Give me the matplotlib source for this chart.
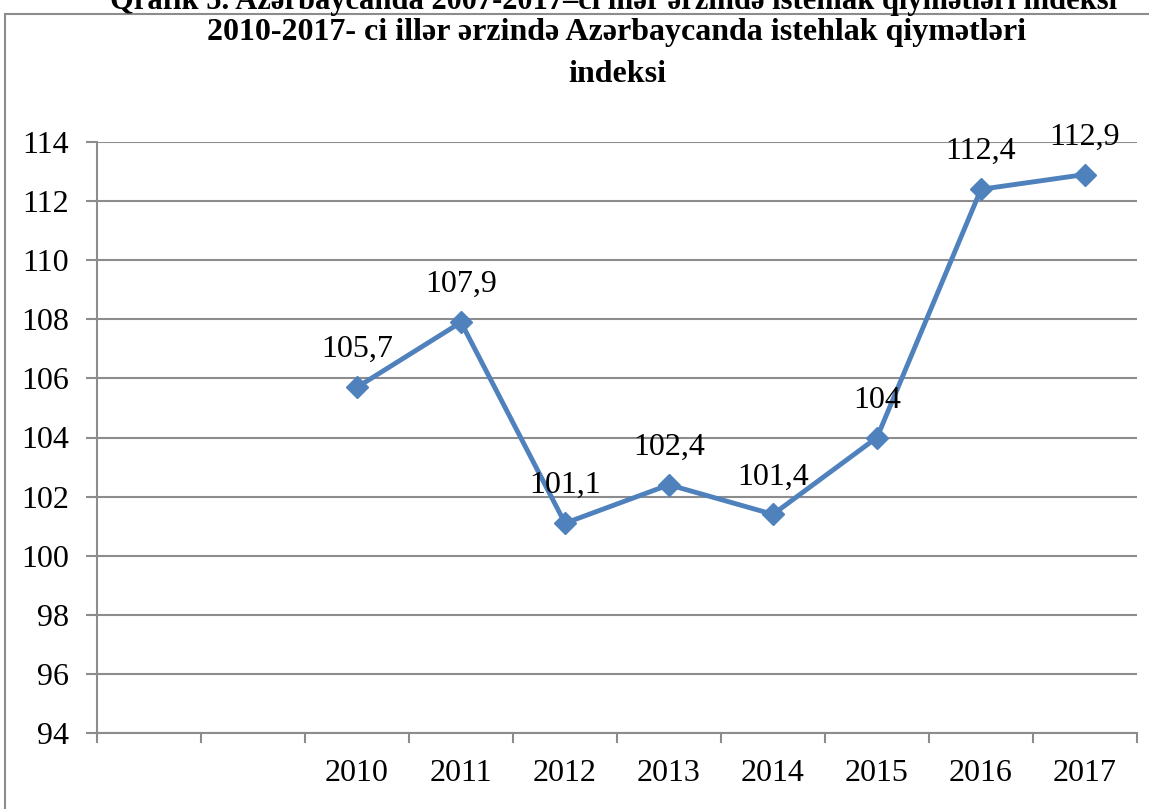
import numpy as np
import matplotlib
matplotlib.use("Agg")
import matplotlib.pyplot as plt
from matplotlib.patches import Rectangle

# data
categories = ['', '', '2010', '2011', '2012', '2013', '2014', '2015', '2016', '2017']
values = [np.nan, np.nan, 105.7, 107.9, 101.1, 102.4, 101.4, 104.0, 112.4, 112.9]
y_ticks = list(range(94, 115, 2))

title_top = 'Qrafik 5. Azərbaycanda 2007-2017–ci illər ərzində istehlak qiymətləri indeksi'
title = '2010-2017- ci illər ərzində Azərbaycanda istehlak qiymətləri\nindeksi'

plt.rcParams['font.family'] = ['Liberation Serif', 'DejaVu Serif']

W, H = 1149, 809
fig = plt.figure(figsize=(W / 100, H / 100), dpi=100)
ax = fig.add_axes([97 / W, 1 - 733 / H, (1137 - 97) / W, (733 - 142) / H])

grey = '#8c8c8c'
blue = '#4f81bd'

x = np.arange(len(categories))
ax.plot(x, values, color=blue, lw=3.5, marker='D', ms=11, zorder=3)

for xi, v in zip(x, values):
    if np.isnan(v):
        continue
    ax.annotate(f'{v:g}'.replace('.', ','), (xi, v), xytext=(0, 27),
                textcoords='offset points', ha='center', va='center',
                fontsize=23, color='black', zorder=4)

ax.set_xlim(-0.5, len(categories) - 0.5)
ax.set_ylim(94, 114)
ax.set_yticks(y_ticks)
ax.set_yticklabels([str(t) for t in y_ticks])
ax.yaxis.grid(True, color=grey, lw=1.5)
ax.set_axisbelow(True)

ax.set_xticks(x)
ax.set_xticklabels(categories)
ax.set_xticks(np.arange(-0.5, len(categories), 1), minor=True)
ax.tick_params(axis='x', which='major', length=0, pad=19, labelsize=23)
ax.tick_params(axis='x', which='minor', length=7, width=1.5, color=grey)
ax.tick_params(axis='y', length=8, width=1.5, color=grey, pad=12, labelsize=23)

for s in ['top', 'right']:
    ax.spines[s].set_visible(False)
for s in ['left', 'bottom']:
    ax.spines[s].set_color(grey)
    ax.spines[s].set_linewidth(1.5)

fig.add_artist(Rectangle((5 / W, -0.1), 2, 1.1 - 14 / H, transform=fig.transFigure,
                         fill=False, edgecolor=grey, lw=1.5))

fig.text(614 / W, 1 - 9 / H, title_top, ha='center', va='baseline',
         fontsize=22, fontweight='bold')
fig.text(617 / W, 1 - 18 / H, title, ha='center', va='top',
         fontsize=23, fontweight='bold', linespacing=1.6)

fig.savefig('out.png', dpi=100)
